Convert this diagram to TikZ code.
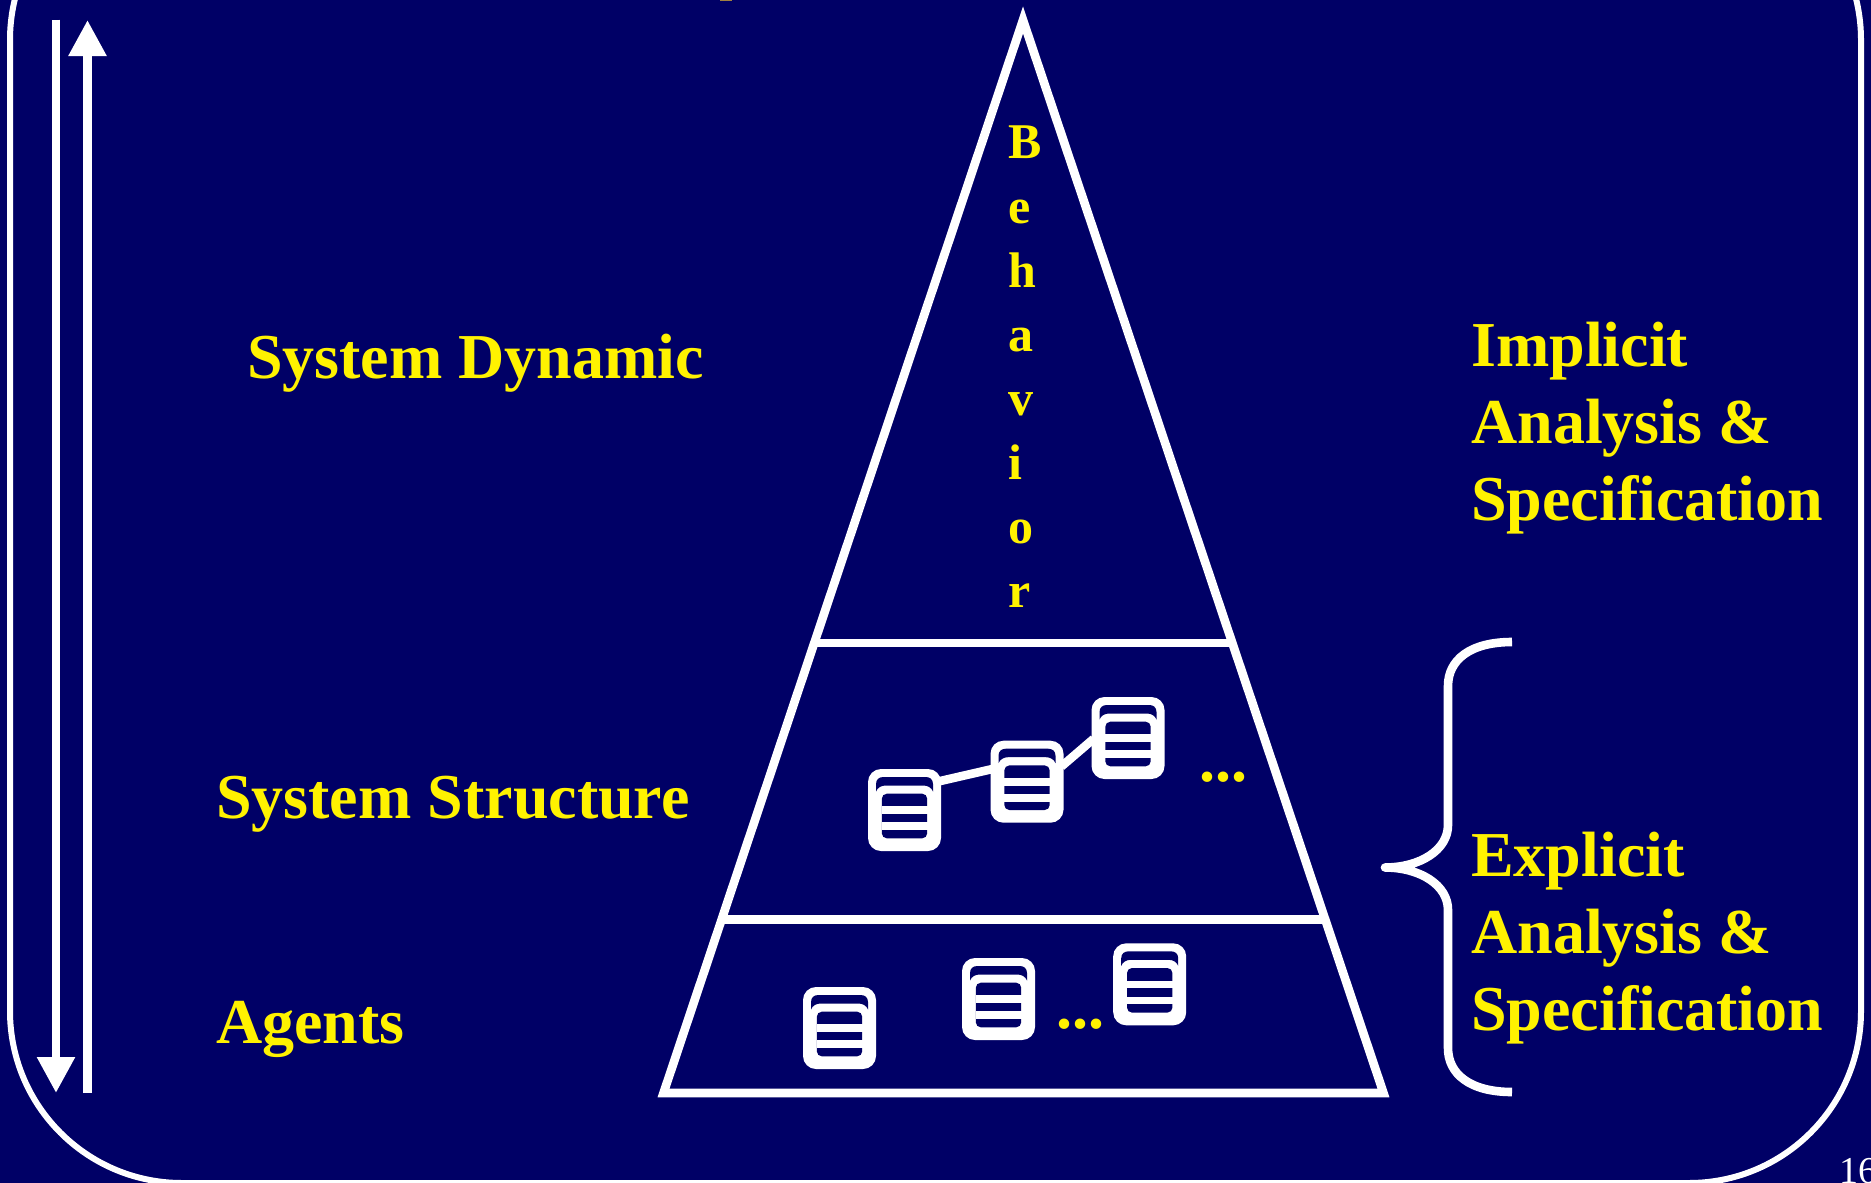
\documentclass[tikz,border=0pt]{standalone}
\usepackage{fontspec}
\setmainfont{Liberation Serif}
\usetikzlibrary{arrows.meta,calc}
\definecolor{navybg}{HTML}{000066}
\definecolor{titlespeck}{HTML}{A08040}
\newcommand{\iconinner}{%
  \begin{scope}[shift={(path picture bounding box.center)},sharp corners]
    \fill[navybg] (-28.5,-18.5) -- (-28.5,-26) .. controls (-28.5,-31) and (-25,-33) .. (-21,-33) -- (21,-33) .. controls (25,-33) and (28.5,-31) .. (28.5,-26) -- (28.5,-18.5) .. controls (27,-22.5) and (23,-24.5) .. (19,-24.5) -- (-19,-24.5) .. controls (-23,-24.5) and (-27,-22.5) .. (-28.5,-18.5) -- cycle;
    \fill[navybg,rounded corners=5] (-22.7,-16.3) rectangle (22.7,28.3);
    \fill[white] (-23,-3.7) rectangle (23,4);
    \fill[white] (-23,12.3) rectangle (23,20);
  \end{scope}}
\tikzset{
  x=1pt,y=-1pt,
  thickline/.style={draw=white,line width=8.6pt},
  frameline/.style={draw=white,line width=6pt,rounded corners=172pt},
  iconbox/.style={rectangle,rounded corners=13pt,fill=white,minimum width=73pt,minimum height=82pt,inner sep=0pt,path picture={\iconinner}},
  label/.style={text=yellow,font=\fontsize{64}{77}\selectfont\bfseries,inner sep=0pt,align=left},
  vertlabel/.style={text=yellow,font=\fontsize{50}{64.1}\selectfont\bfseries,inner sep=0pt,align=left},
  pageno/.style={text=white,font=\fontsize{38}{38}\selectfont,inner sep=0pt},
  dubarrow/.style={thickline,-{Triangle[length=36pt,width=36pt]}}
}
\begin{document}
\begin{tikzpicture}
\useasboundingbox (0,0) rectangle (1871,1183);
\clip (0,0) rectangle (1871,1183);
\fill[navybg] (0,0) rectangle (1871,1183);
\draw[frameline] (10,-132) rectangle (1861,1183);
\fill[titlespeck] (720,0) rectangle (732,1);

\coordinate (dTop) at (56,19.5);
\coordinate (dBot) at (56,1093);
\coordinate (uBot) at (87.5,1093);
\coordinate (uTop) at (87.5,20);
\draw[dubarrow] (dTop) -- (dBot);
\draw[dubarrow] (uBot) -- (uTop);

\coordinate (apex) at (1023,20);
\coordinate (baseL) at (663.5,1093);
\coordinate (baseR) at (1383.5,1093);
\draw[thickline,line join=miter] (apex) -- (baseL) -- (baseR) -- cycle;
\coordinate (l1) at ($(apex)!0.5806!(baseL)$);
\coordinate (r1) at ($(apex)!0.5806!(baseR)$);
\coordinate (l2) at ($(apex)!0.8383!(baseL)$);
\coordinate (r2) at ($(apex)!0.8383!(baseR)$);
\draw[thickline] (l1) -- (r1);
\draw[thickline] (l2) -- (r2);

\node[iconbox] (s1) at (904.5,810) {};
\node[iconbox] (s2) at (1027,781.7) {};
\node[iconbox] (s3) at (1128,738) {};
\node[iconbox] (a1) at (839.5,1028) {};
\node[iconbox] (a2) at (998.5,999) {};
\node[iconbox] (a3) at (1149.7,984.3) {};
\draw[thickline,shorten >=-3pt,shorten <=-3pt] ([yshift=-12pt]s1.north east) -- ([yshift=-29pt]s2.north west);
\draw[thickline,shorten >=-3pt,shorten <=-3pt] ([yshift=-24pt]s2.north east) -- ([yshift=-44pt]s3.north west);

\node[label,anchor=base west] (dots1) at (1199.5,781) {...};
\node[label,anchor=base west] (dots2) at (1056,1028) {...};

\node[label,anchor=base west] (sd) at (247,378.5) {System Dynamic};
\node[label,anchor=base west] (ss) at (216,818) {System Structure};
\node[label,anchor=base west] (ag) at (216,1043) {Agents};
\node[vertlabel,anchor=north west] (beh) at (1008,126) {B\\e\\h\\a\\v\\i\\o\\r};
\node[label,anchor=north west] (imp) at (1471,322) {Implicit\\Analysis \&\\Specification};
\node[label,anchor=north west] (exp) at (1471,832) {Explicit\\Analysis \&\\Specification};

\coordinate (brTop) at (1512,642);
\coordinate (brTip) at (1385,867.5);
\coordinate (brBot) at (1512,1092);
\draw[thickline,line join=round] (brTop) .. controls (1470,642) and (1448,660) .. (1448,686) -- (1448,825) .. controls (1448,850) and (1420,867.5) .. (brTip) .. controls (1420,867.5) and (1448,885) .. (1448,910) -- (1448,1048) .. controls (1448,1074) and (1470,1092) .. (brBot);

\node[pageno,anchor=base west] (pg) at (1839,1183) {16};
\end{tikzpicture}
\end{document}
